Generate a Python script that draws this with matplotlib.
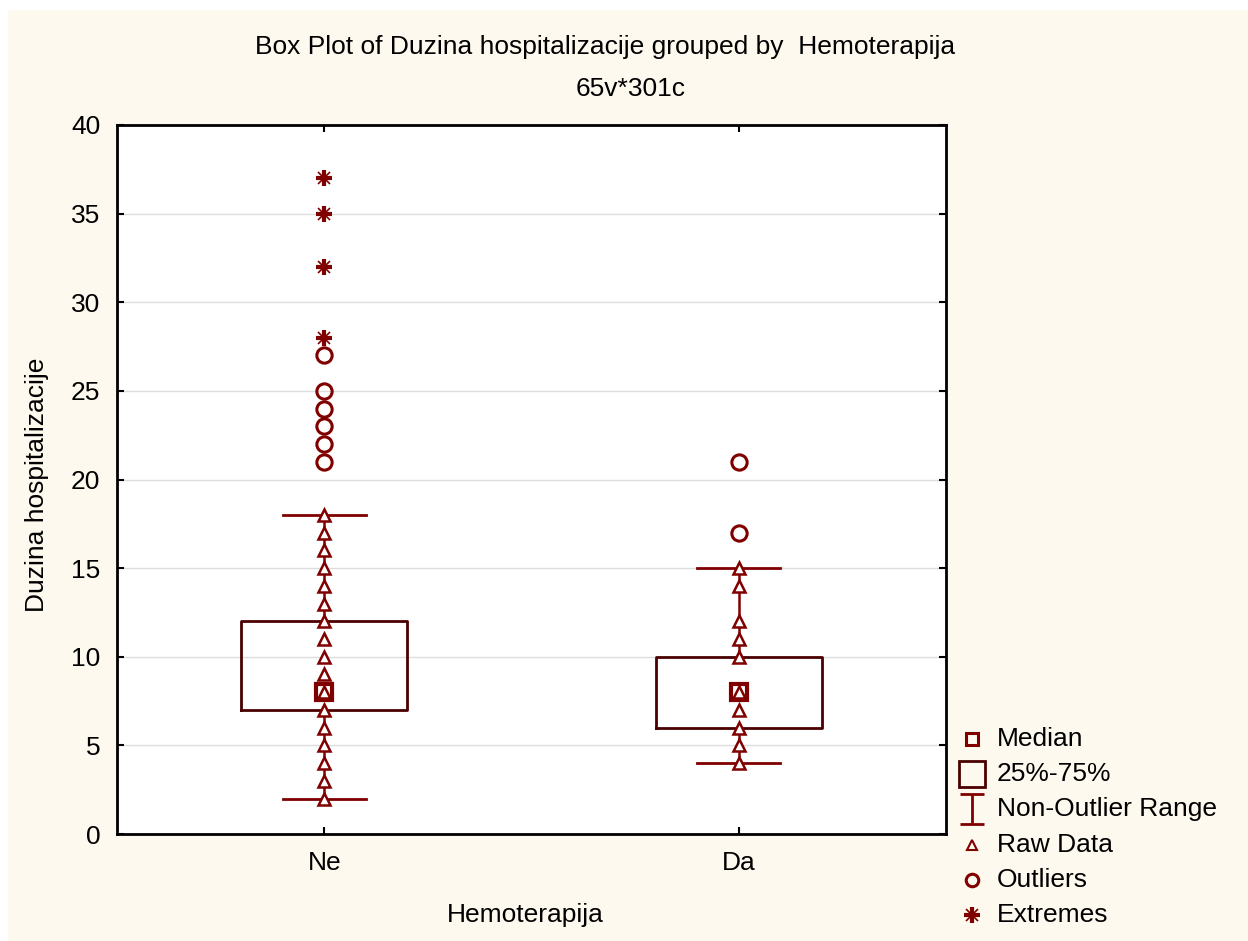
import matplotlib
matplotlib.use("Agg")
import matplotlib.pyplot as plt
from matplotlib.lines import Line2D
from matplotlib.path import Path
from matplotlib.patches import Rectangle

plt.rcParams['font.family'] = ['Liberation Sans', 'DejaVu Sans']

# ---- data ----
categories = ["Ne", "Da"]
q1 = [7, 6]
q3 = [12, 10]
medians = [8, 8]
whisker_lo = [2, 4]
whisker_hi = [18, 15]
raw_ne = [2, 3, 4, 5, 6, 7, 8, 9, 10, 11, 12, 13, 14, 15, 16, 17, 18]
raw_da = [4, 5, 6, 7, 8, 10, 11, 12, 14, 15]
outliers_ne = [21, 22, 23, 24, 25, 27]
outliers_da = [17, 21]
extremes_ne = [28, 32, 35, 37]
extremes_da = []
yticks = [0, 5, 10, 15, 20, 25, 30, 35, 40]

title1 = "Box Plot of Duzina hospitalizacije grouped by  Hemoterapija"
title2 = "65v*301c"
xlabel = "Hemoterapija"
ylabel = "Duzina hospitalizacije"
legend_labels = ["Median", "25%-75%", "Non-Outlier Range", "Raw Data", "Outliers", "Extremes"]

RED = "#800000"
DARK = "#4a0000"
BG = "#fdf9ee"
FS = 19

fig = plt.figure(figsize=(12.48, 9.41), dpi=100)
fig.patch.set_facecolor("white")
fig.patches.append(Rectangle((8/1248, 0), 1, 1 - 10/941, transform=fig.transFigure,
                             facecolor=BG, edgecolor="none", zorder=-10))

ax = fig.add_axes([117/1248, 1 - 834/941, (946-117)/1248, (834-125)/941])
ax.set_facecolor("white")

positions = [1, 2]
stats = []
for i in range(2):
    stats.append(dict(med=medians[i], q1=q1[i], q3=q3[i],
                      whislo=whisker_lo[i], whishi=whisker_hi[i], fliers=[]))
ax.bxp(stats, positions=positions, widths=0.4, capwidths=0.2, showfliers=False,
       boxprops=dict(color=DARK, linewidth=2),
       whiskerprops=dict(color=RED, linewidth=1.8),
       capprops=dict(color=RED, linewidth=2),
       medianprops=dict(linewidth=0), zorder=2)

raws = [raw_ne, raw_da]
outs = [outliers_ne, outliers_da]
exts = [extremes_ne, extremes_da]
for i, p in enumerate(positions):
    ax.plot([p], [medians[i]], linestyle="none", marker="s", ms=11,
            mfc="none", mec=RED, mew=3, zorder=3)
    ax.plot([p]*len(raws[i]), raws[i], linestyle="none", marker="^", ms=8.5,
            mfc="white", mec=RED, mew=1.8, zorder=4)
    ax.plot([p]*len(outs[i]), outs[i], linestyle="none", marker="o", ms=11,
            mfc="none", mec=RED, mew=2.2, zorder=3)
    if exts[i]:
        ax.plot([p]*len(exts[i]), exts[i], linestyle="none", marker="+", ms=12,
                mec=RED, mew=3, zorder=3)
        ax.plot([p]*len(exts[i]), exts[i], linestyle="none", marker="x", ms=9,
                mec=RED, mew=1.2, zorder=3)

ax.set_xlim(0.5, 2.5)
ax.set_ylim(0, 40)
ax.set_yticks(yticks)
ax.set_xticks(positions)
ax.set_xticklabels(categories)
ax.tick_params(axis="both", direction="in", length=5, width=1.5, labelsize=FS,
               top=True, right=True)
ax.tick_params(axis="y", pad=12)
ax.tick_params(axis="x", pad=12)
ax.yaxis.grid(True, color="#dcdcdc", linewidth=1)
ax.set_axisbelow(True)
for s in ax.spines.values():
    s.set_linewidth(2)
    s.set_color("black")

fig.text(605/1248, 1 - 47/941, title1, ha="center", va="center", fontsize=FS)
fig.text(631/1248, 1 - 89/941, title2, ha="center", va="center", fontsize=FS)
fig.text(37/1248, 1 - 485/941, ylabel, ha="center", va="center", rotation=90, fontsize=FS)
fig.text(525/1248, 1 - 915/941, xlabel, ha="center", va="center", fontsize=FS)

# ---- legend (manual) ----
ibeam = Path([(-0.42, -0.5), (0.42, -0.5), (0, -0.5), (0, 0.5), (-0.42, 0.5), (0.42, 0.5)],
             [Path.MOVETO, Path.LINETO, Path.MOVETO, Path.LINETO, Path.MOVETO, Path.LINETO])
styles = [
    dict(marker="s", ms=8.5, mec=RED, mew=2.2),
    dict(marker="s", ms=19, mec=DARK, mew=2),
    dict(marker=ibeam, ms=21, mec=RED, mew=2),
    dict(marker="^", ms=7, mec=RED, mew=1.5),
    dict(marker="o", ms=9, mec=RED, mew=2.2),
    dict(marker="+", ms=11, mec=RED, mew=3),
]
for i, (lab, st) in enumerate(zip(legend_labels, styles)):
    yy = 1 - (739 + 35.2 * i) / 941
    fig.add_artist(Line2D([972/1248], [yy], transform=fig.transFigure, ls="none",
                          mfc="none", **st))
    if i == 5:
        fig.add_artist(Line2D([972/1248], [yy], transform=fig.transFigure, ls="none",
                              marker="x", ms=8, mec=RED, mew=1.2))
    fig.text(997/1248, yy, lab, ha="left", va="center", fontsize=FS)

fig.savefig("out.png", dpi=100, facecolor=fig.get_facecolor())
